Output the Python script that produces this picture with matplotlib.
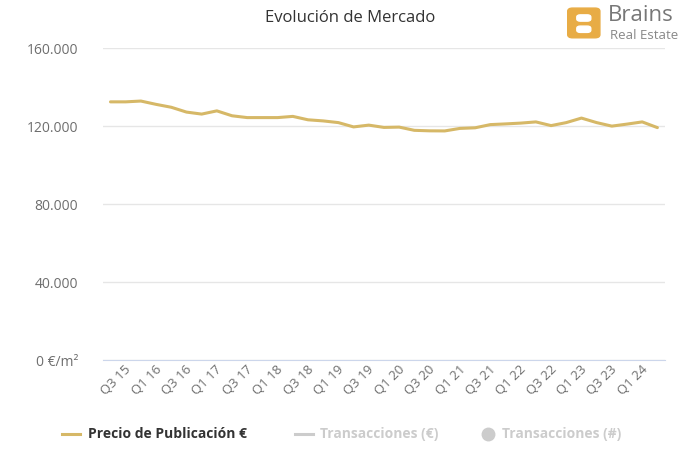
import matplotlib
matplotlib.use("Agg")
import matplotlib.pyplot as plt
import matplotlib.transforms as mtransforms
from matplotlib.patches import FancyBboxPatch
from matplotlib.lines import Line2D

# quarters from Q3 15 to Q3 24
quarters = []
for year in range(15, 25):
    for q in (1, 2, 3, 4):
        if (year == 15 and q < 3) or (year == 24 and q > 3):
            continue
        quarters.append(f"Q{q} {year}")

precio = [132450, 132450, 132860, 131160, 129670, 127200, 126170, 127820,
          125300, 124370, 124370, 124370, 124990, 123240, 122670, 121800,
          119590, 120510, 119330, 119490, 117840, 117580, 117530, 118820,
          119130, 120770, 121130, 121540, 122160, 120260, 121800, 124120,
          121800, 120000, 121030, 122160, 119230]

y_ticks = [0, 40000, 80000, 120000, 160000]
y_labels = ["0 €/m²", "40.000", "80.000", "120.000", "160.000"]

gold = "#d6b867"
plt.rcParams['font.family'] = ['Open Sans', 'DejaVu Sans']

fig = plt.figure(figsize=(7, 4.5), dpi=100)
ax = fig.add_axes([0.147, 0.2, 0.803, 0.693])

x = list(range(len(quarters)))
ax.plot(x, precio, color=gold, lw=2.2, solid_joinstyle='round', solid_capstyle='round')

ax.set_xlim(-0.5, len(quarters) - 0.5)
ax.set_ylim(0, 160000)
ax.set_yticks(y_ticks)
ax.set_yticklabels(y_labels)
ax.grid(axis='y', color='#e6e6e6', lw=1)
ax.set_axisbelow(True)

tick_idx = list(range(0, 35, 2))
ax.set_xticks(tick_idx)
ax.set_xticklabels([quarters[i] for i in tick_idx], rotation=45, ha='right',
                   rotation_mode='anchor')

for s in ('top', 'right', 'left'):
    ax.spines[s].set_visible(False)
ax.spines['bottom'].set_color('#ccd6eb')
ax.tick_params(axis='y', length=0, pad=18, labelsize=10, labelcolor='#6e6e6e')
ax.tick_params(axis='x', length=0, pad=2, labelsize=9.5, labelcolor='#6e6e6e')

# shift the rotated labels right so they end just past the tick, like the original
shift = mtransforms.ScaledTranslation(0.14, 0.0, fig.dpi_scale_trans)
for lbl in ax.get_xticklabels():
    lbl.set_transform(lbl.get_transform() + shift)

fig.text(0.5, 0.96, "Evolución de Mercado", ha='center', va='center',
         fontsize=12, color='#333333')

# logo
logo = FancyBboxPatch((0.811, 0.916), 0.046, 0.066, boxstyle="round,pad=0,rounding_size=0.007",
                      transform=fig.transFigure, color='#e8ac45', zorder=5)
fig.patches.append(logo)
for yb in (0.928, 0.953):
    hole = FancyBboxPatch((0.824, yb), 0.02, 0.014, boxstyle="round,pad=0,rounding_size=0.005",
                          transform=fig.transFigure, color='white', zorder=6)
    fig.patches.append(hole)
fig.text(0.869, 0.966, "Brains", ha='left', va='center', fontsize=16, color='#777777')
fig.text(0.871, 0.922, "Real Estate", ha='left', va='center', fontsize=9.5, color='#888888')

# legend
ly = 0.035
fig.add_artist(Line2D([0.089, 0.114], [ly, ly], transform=fig.transFigure, color=gold, lw=2.2))
fig.text(0.126, ly, "Precio de Publicación €", ha='left', va='center', fontsize=10,
         fontweight='bold', color='#333333')
fig.add_artist(Line2D([0.421, 0.447], [ly, ly], transform=fig.transFigure, color='#cccccc', lw=2.2))
fig.text(0.457, ly, "Transacciones (€)", ha='left', va='center', fontsize=10,
         fontweight='bold', color='#cccccc')
fig.add_artist(Line2D([0.697], [ly], transform=fig.transFigure, marker='o', ms=9,
                      color='#cccccc', lw=0))
fig.text(0.717, ly, "Transacciones (#)", ha='left', va='center', fontsize=10,
         fontweight='bold', color='#cccccc')

fig.savefig("out.png", dpi=100, facecolor='white')
